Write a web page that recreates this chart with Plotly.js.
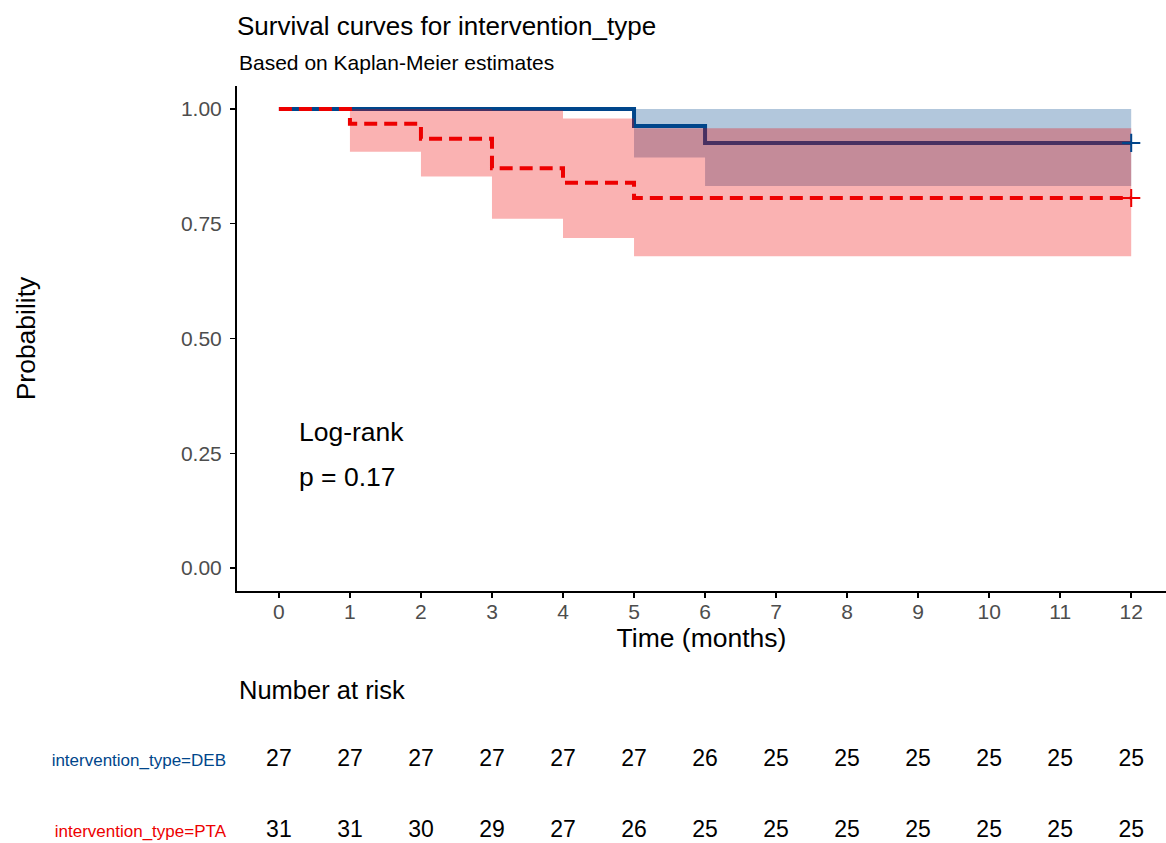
<!DOCTYPE html>
<html>
<head>
<meta charset="utf-8">
<script src="https://cdn.plot.ly/plotly-3.0.1.min.js"></script>
<style>html,body{margin:0;padding:0;background:#fff;}#chart{width:1166px;height:843px;}</style>
</head>
<body>
<div id="chart"></div>
<script>
// ---- data ----
const groupNames = ["intervention_type=DEB", "intervention_type=PTA"];
const timesDEB = [0, 5, 6, 12];
const survDEB  = [1, 0.963, 0.926, 0.926];
const upperDEB = [1, 1, 1, 1];
const lowerDEB = [1, 0.894, 0.832, 0.832];

const timesPTA = [0, 1, 2, 3, 4, 5, 12];
const survPTA  = [1, 0.968, 0.935, 0.871, 0.839, 0.806, 0.806];
const upperPTA = [1, 1, 1, 0.997, 0.979, 0.958, 0.958];
const lowerPTA = [1, 0.907, 0.853, 0.761, 0.719, 0.679, 0.679];

const censorTimeDEB = [12];
const censorSurvDEB = [0.926];
const censorTimePTA = [12];
const censorSurvPTA = [0.806];

const riskTimes = [0, 1, 2, 3, 4, 5, 6, 7, 8, 9, 10, 11, 12];
const riskDEB = [27, 27, 27, 27, 27, 27, 26, 25, 25, 25, 25, 25, 25];
const riskPTA = [31, 31, 30, 29, 27, 26, 25, 25, 25, 25, 25, 25, 25];

const xTicks = [0, 1, 2, 3, 4, 5, 6, 7, 8, 9, 10, 11, 12];
const yTicks = [0, 0.25, 0.5, 0.75, 1];
const yTickText = ["0.00", "0.25", "0.50", "0.75", "1.00"];

// ---- style ----
const colDEB = "#00468B";
const colPTA = "#ED0000";
const fillDEB = "rgba(0,70,139,0.3)";
const fillPTA = "rgba(237,0,0,0.3)";
const FONT = "Liberation Sans, Arial, sans-serif";

const traces = [
  // DEB ribbon
  {x: timesDEB, y: lowerDEB, mode: "lines", line: {shape: "hv", width: 0, color: fillDEB},
   hoverinfo: "skip", showlegend: false, xaxis: "x", yaxis: "y"},
  {x: timesDEB, y: upperDEB, mode: "lines", line: {shape: "hv", width: 0, color: fillDEB},
   fill: "tonexty", fillcolor: fillDEB, hoverinfo: "skip", showlegend: false, xaxis: "x", yaxis: "y"},
  // DEB curve
  {x: timesDEB, y: survDEB, mode: "lines", name: groupNames[0],
   line: {shape: "hv", width: 4, color: colDEB}, showlegend: false, xaxis: "x", yaxis: "y"},
  // PTA ribbon
  {x: timesPTA, y: lowerPTA, mode: "lines", line: {shape: "hv", width: 0, color: fillPTA},
   hoverinfo: "skip", showlegend: false, xaxis: "x", yaxis: "y"},
  {x: timesPTA, y: upperPTA, mode: "lines", line: {shape: "hv", width: 0, color: fillPTA},
   fill: "tonexty", fillcolor: fillPTA, hoverinfo: "skip", showlegend: false, xaxis: "x", yaxis: "y"},
  // PTA curve
  {x: timesPTA, y: survPTA, mode: "lines", name: groupNames[1],
   line: {shape: "hv", width: 4, color: colPTA, dash: "13px,7px"}, showlegend: false, xaxis: "x", yaxis: "y"},
  // censor marks
  {x: censorTimeDEB, y: censorSurvDEB, mode: "markers", showlegend: false,
   marker: {symbol: "cross-thin", size: 13, line: {width: 2, color: colDEB}, color: colDEB}, xaxis: "x", yaxis: "y"},
  {x: censorTimePTA, y: censorSurvPTA, mode: "markers", showlegend: false,
   marker: {symbol: "cross-thin", size: 13, line: {width: 2, color: colPTA}, color: colPTA}, xaxis: "x", yaxis: "y"},
  // risk table
  {x: riskTimes, y: riskTimes.map(() => groupNames[0]), text: riskDEB.map(String), mode: "text",
   textfont: {family: FONT, size: 23, color: "#000"}, showlegend: false, hoverinfo: "skip", xaxis: "x2", yaxis: "y2"},
  {x: riskTimes, y: riskTimes.map(() => groupNames[1]), text: riskPTA.map(String), mode: "text",
   textfont: {family: FONT, size: 23, color: "#000"}, showlegend: false, hoverinfo: "skip", xaxis: "x2", yaxis: "y2"}
];

const W = 1166, H = 843;
const plotTop = 86, plotLeft = 237;
const plotH = H - plotTop;
const mainBottomPx = 591;

const layout = {
  width: W, height: H,
  margin: {l: plotLeft, r: 0, t: plotTop, b: 0},
  paper_bgcolor: "#fff", plot_bgcolor: "rgba(0,0,0,0)",
  font: {family: FONT, color: "#000"},
  showlegend: false,
  title: {text: "Survival curves for intervention_type", x: plotLeft / W, xanchor: "left",
          y: 1 - 26 / H, yanchor: "middle", font: {family: FONT, size: 26, color: "#000"}},
  xaxis: {
    domain: [0, 1], range: [-0.59, 12.49], anchor: "y",
    tickmode: "array", tickvals: xTicks, ticktext: xTicks.map(String),
    ticks: "outside", ticklen: 5, tickwidth: 1.5, tickcolor: "#000",
    showline: true, linecolor: "#000", linewidth: 2, showgrid: false, zeroline: false,
    tickfont: {family: FONT, size: 21, color: "#4D4D4D"}, ticklabelstandoff: -4,
    title: {text: "Time (months)", font: {family: FONT, size: 26.5, color: "#000"}, standoff: 6}
  },
  yaxis: {
    domain: [(H - mainBottomPx) / plotH, 1], range: [-0.05, 1.05], anchor: "x",
    tickmode: "array", tickvals: yTicks, ticktext: yTickText,
    ticks: "outside", ticklen: 5, tickwidth: 1.5, tickcolor: "#000",
    showline: true, linecolor: "#000", linewidth: 2, showgrid: false, zeroline: false,
    tickfont: {family: FONT, size: 21, color: "#4D4D4D"}, ticklabelstandoff: 4,
    title: {text: "Probability", font: {family: FONT, size: 26.5, color: "#000"}, standoff: 138}
  },
  xaxis2: {
    domain: [0, 1], range: [-0.59, 12.49], anchor: "y2",
    showline: false, showgrid: false, zeroline: false, showticklabels: false, ticks: ""
  },
  yaxis2: {
    domain: [0, 118 / plotH], anchor: "x2", type: "category",
    categoryorder: "array", categoryarray: [groupNames[1], groupNames[0]],
    range: [-0.165, 1.495],
    tickmode: "array", tickvals: [groupNames[0], groupNames[1]],
    ticktext: [
      '<span style="color:' + colDEB + '">' + groupNames[0] + '</span>',
      '<span style="color:' + colPTA + '">' + groupNames[1] + '</span>'
    ],
    tickfont: {family: FONT, size: 17}, ticklabelstandoff: 10,
    showline: false, showgrid: false, zeroline: false, ticks: ""
  },
  annotations: [
    {text: "Based on Kaplan-Meier estimates", xref: "paper", yref: "paper", x: 0, y: (H - 62) / plotH,
     xanchor: "left", yanchor: "middle", showarrow: false, font: {family: FONT, size: 21, color: "#000"}},
    {text: "Log-rank", xref: "x", yref: "y", x: 0.25, y: 0.296, xanchor: "left", yanchor: "middle",
     showarrow: false, font: {family: FONT, size: 26.5, color: "#000"}},
    {text: "p = 0.17", xref: "x", yref: "y", x: 0.25, y: 0.198, xanchor: "left", yanchor: "middle",
     showarrow: false, font: {family: FONT, size: 26.5, color: "#000"}},
    {text: "Number at risk", xref: "paper", yref: "paper", x: 0, y: (H - 690) / plotH,
     xanchor: "left", yanchor: "middle", showarrow: false, font: {family: FONT, size: 25.5, color: "#000"}}
  ]
};

Plotly.newPlot("chart", traces, layout, {displayModeBar: false, staticPlot: true});
</script>
</body>
</html>
